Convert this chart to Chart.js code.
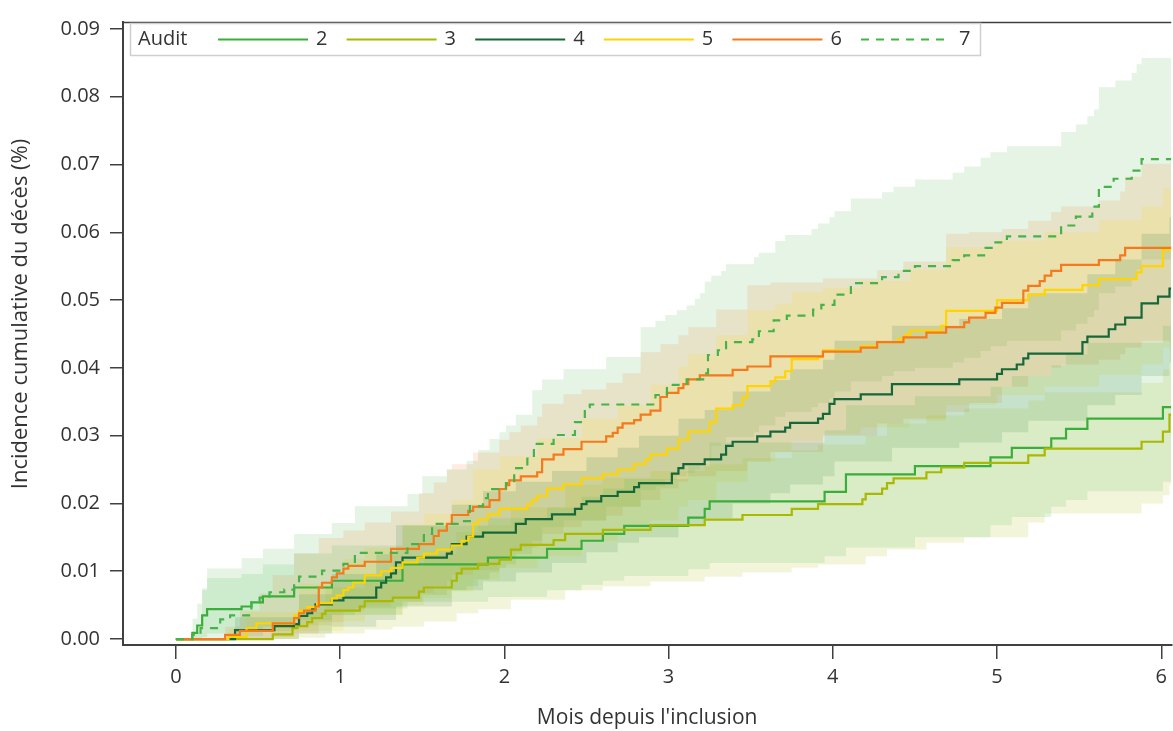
<!DOCTYPE html>
<html><head><meta charset="utf-8">
<script src="https://cdn.jsdelivr.net/npm/chart.js@4/dist/chart.umd.min.js"></script>
<style>html,body{margin:0;padding:0;background:#fff;}#wrap{width:1173px;height:731px;}</style>
</head><body><div id="wrap"><canvas id="c" width="1173" height="731"></canvas></div>
<script>
// ---------- data ----------
const legendTitle = "Audit";
const xTitle = "Mois depuis l'inclusion";
const yTitle = "Incidence cumulative du décès (%)";
const audits = ["2","3","4","5","6","7"];
const xTicks = [0,1,2,3,4,5,6];
const yTicks = [0,0.01,0.02,0.03,0.04,0.05,0.06,0.07,0.08,0.09];

const t2 = [0,0.10,0.13,0.16,0.19,0.40,0.46,0.53,0.72,0.95,1.38,1.90,2.26,2.47,2.60,2.73,3.12,3.22,3.25,3.95,4.08,4.50,4.96,5.09,5.33,5.42,5.55,6.01];
const v2 = [0,0.0009,0.0020,0.0035,0.0044,0.0048,0.0054,0.0063,0.0076,0.0086,0.0110,0.0120,0.0133,0.0145,0.0155,0.0167,0.0179,0.0192,0.0203,0.0217,0.0243,0.0255,0.0268,0.0282,0.0296,0.0310,0.0325,0.0342];

const t3 = [0,0.59,0.71,0.74,0.80,0.83,0.89,0.91,1.12,1.15,1.32,1.48,1.51,1.68,1.71,1.74,1.84,1.97,2.04,2.10,2.30,2.37,2.60,2.89,3.22,3.45,3.75,3.91,4.18,4.20,4.30,4.33,4.37,4.57,4.66,4.80,5.19,5.29,5.88,6.01,6.05];
const v3 = [0,0.0007,0.0016,0.0019,0.0025,0.0031,0.0037,0.0042,0.0048,0.0056,0.0061,0.0070,0.0076,0.0086,0.0097,0.0104,0.0111,0.0117,0.0132,0.0139,0.0146,0.0155,0.0161,0.0168,0.0176,0.0183,0.0192,0.0199,0.0206,0.0214,0.0222,0.0230,0.0237,0.0246,0.0253,0.0260,0.0271,0.0281,0.0291,0.0306,0.0331];

const t4 = [0,0.36,0.60,0.72,0.75,0.80,0.83,0.85,0.95,1.02,1.22,1.25,1.28,1.31,1.34,1.38,1.65,1.68,1.77,1.87,2.07,2.13,2.29,2.43,2.47,2.50,2.59,2.69,2.79,2.82,3.02,3.06,3.09,3.22,3.32,3.35,3.39,3.54,3.62,3.71,3.74,3.91,3.94,3.98,4.01,4.17,4.36,4.77,5.00,5.03,5.12,5.16,5.19,5.52,5.55,5.68,5.72,5.78,5.88,5.98,6.05];
const v4 = [0,0.0013,0.0019,0.0022,0.0034,0.0038,0.0044,0.0051,0.0057,0.0061,0.0076,0.0083,0.0091,0.0097,0.0113,0.0120,0.0126,0.0140,0.0151,0.0157,0.0170,0.0177,0.0184,0.0192,0.0199,0.0203,0.0211,0.0217,0.0224,0.0230,0.0244,0.0252,0.0258,0.0265,0.0272,0.0285,0.0291,0.0299,0.0306,0.0312,0.0319,0.0325,0.0332,0.0347,0.0354,0.0361,0.0376,0.0383,0.0391,0.0398,0.0405,0.0414,0.0421,0.0438,0.0446,0.0457,0.0464,0.0474,0.0495,0.0505,0.0517];

const t5 = [0,0.32,0.43,0.49,0.72,0.75,0.80,0.86,0.95,0.98,1.02,1.05,1.08,1.15,1.25,1.31,1.38,1.47,1.51,1.59,1.68,1.74,1.78,1.81,1.84,1.90,1.97,2.14,2.17,2.20,2.26,2.36,2.47,2.60,2.69,2.79,2.86,2.89,2.99,3.06,3.12,3.25,3.29,3.39,3.45,3.48,3.62,3.65,3.71,3.75,3.91,3.94,4.17,4.27,4.40,4.44,4.47,4.66,4.69,5.00,5.19,5.29,5.52,5.62,5.85,5.88,6.01];
const v5 = [0,0.0003,0.0016,0.0023,0.0035,0.0042,0.0047,0.0053,0.0060,0.0064,0.0072,0.0076,0.0083,0.0094,0.0100,0.0105,0.0113,0.0120,0.0126,0.0132,0.0138,0.0145,0.0151,0.0170,0.0176,0.0184,0.0192,0.0199,0.0205,0.0211,0.0222,0.0228,0.0237,0.0243,0.0250,0.0258,0.0265,0.0272,0.0281,0.0294,0.0306,0.0320,0.0340,0.0345,0.0356,0.0373,0.0380,0.0386,0.0395,0.0413,0.0416,0.0426,0.0432,0.0438,0.0443,0.0449,0.0455,0.0462,0.0484,0.0500,0.0508,0.0515,0.0522,0.0531,0.0541,0.0550,0.0574];

const t6 = [0,0.30,0.39,0.59,0.72,0.75,0.78,0.85,0.87,0.89,0.95,0.98,1.02,1.05,1.15,1.31,1.48,1.57,1.60,1.65,1.68,1.78,1.81,1.91,1.97,2.01,2.03,2.10,2.20,2.23,2.30,2.36,2.47,2.62,2.66,2.69,2.72,2.79,2.83,2.89,2.95,2.99,3.06,3.09,3.12,3.19,3.39,3.48,3.62,3.94,4.17,4.27,4.43,4.57,4.69,4.80,4.83,4.93,4.99,5.03,5.16,5.19,5.26,5.29,5.33,5.39,5.62,5.75,5.78];
const v6 = [0,0.0006,0.0012,0.0023,0.0031,0.0038,0.0042,0.0048,0.0076,0.0083,0.0091,0.0097,0.0104,0.0108,0.0114,0.0133,0.0140,0.0152,0.0160,0.0170,0.0183,0.0189,0.0195,0.0205,0.0221,0.0227,0.0234,0.0240,0.0246,0.0265,0.0272,0.0280,0.0291,0.0299,0.0304,0.0312,0.0318,0.0323,0.0331,0.0337,0.0357,0.0363,0.0370,0.0376,0.0383,0.0389,0.0397,0.0402,0.0417,0.0424,0.0430,0.0438,0.0445,0.0452,0.0460,0.0467,0.0474,0.0481,0.0489,0.0496,0.0514,0.0521,0.0528,0.0536,0.0543,0.0552,0.0559,0.0566,0.0577];

const t7 = [0,0.10,0.15,0.27,0.33,0.46,0.51,0.57,0.66,0.72,0.75,0.89,1.02,1.09,1.41,1.51,1.56,1.73,1.79,1.87,1.90,2.01,2.06,2.14,2.18,2.30,2.43,2.49,2.52,2.92,2.99,3.11,3.22,3.24,3.30,3.35,3.51,3.55,3.64,3.72,3.88,3.93,4.01,4.11,4.30,4.40,4.50,4.73,4.80,4.93,4.99,5.06,5.39,5.48,5.58,5.62,5.71,5.82,5.88];
const v7 = [0,0.0006,0.0016,0.0029,0.0035,0.0054,0.0061,0.0069,0.0073,0.0082,0.0092,0.0101,0.0111,0.0127,0.0140,0.0155,0.0170,0.0174,0.0196,0.0208,0.0221,0.0230,0.0252,0.0266,0.0288,0.0301,0.0320,0.0342,0.0346,0.0360,0.0375,0.0383,0.0392,0.0419,0.0426,0.0438,0.0442,0.0454,0.0470,0.0477,0.0486,0.0493,0.0508,0.0525,0.0534,0.0543,0.0550,0.0559,0.0566,0.0577,0.0585,0.0594,0.0610,0.0623,0.0638,0.0667,0.0679,0.0691,0.0708];

// confidence bands
const bt2 = [0.10,0.13,0.16,0.19,0.40,0.53,0.72,0.95,1.38,1.90,2.26,2.47,2.60,2.73,3.12,3.25,3.95,4.08,4.50,4.96,5.09,5.33,5.42,5.55,6.01];
const lo2 = [0,0,0.0003,0.0008,0.0012,0.0018,0.0028,0.0036,0.0055,0.0062,0.0072,0.0080,0.0086,0.0093,0.0103,0.0112,0.0122,0.0135,0.0150,0.0168,0.0180,0.0195,0.0205,0.0218,0.0232];
const hi2 = [0.0030,0.0052,0.0075,0.0090,0.0096,0.0110,0.0126,0.0138,0.0167,0.0178,0.0194,0.0210,0.0222,0.0236,0.0255,0.0290,0.0308,0.0345,0.0358,0.0372,0.0388,0.0404,0.0420,0.0437,0.0462];

const bt3 = [0.59,0.74,0.91,1.15,1.32,1.51,1.71,1.84,2.04,2.37,2.60,2.89,3.22,3.45,3.75,3.91,4.20,4.33,4.57,4.80,5.19,5.29,5.88,6.01,6.05];
const lo3 = [0,0.0002,0.0008,0.0014,0.0018,0.0026,0.0038,0.0044,0.0058,0.0072,0.0078,0.0085,0.0092,0.0098,0.0105,0.0110,0.0122,0.0132,0.0142,0.0150,0.0172,0.0185,0.0200,0.0212,0.0228];
const hi3 = [0.0022,0.0040,0.0076,0.0096,0.0108,0.0126,0.0158,0.0168,0.0194,0.0228,0.0238,0.0248,0.0258,0.0267,0.0278,0.0287,0.0300,0.0318,0.0330,0.0340,0.0352,0.0364,0.0378,0.0398,0.0440];

const bt4 = [0.36,0.75,0.95,1.22,1.34,1.68,1.87,2.07,2.29,2.50,2.69,2.82,3.06,3.22,3.39,3.62,3.74,3.94,4.01,4.36,4.77,5.03,5.19,5.55,5.72,5.88,6.05];
const lo4 = [0,0.0008,0.0018,0.0028,0.0048,0.0072,0.0085,0.0098,0.0112,0.0128,0.0142,0.0150,0.0168,0.0178,0.0200,0.0215,0.0228,0.0240,0.0262,0.0282,0.0290,0.0305,0.0322,0.0345,0.0360,0.0388,0.0408];
const hi4 = [0.0032,0.0066,0.0096,0.0125,0.0168,0.0198,0.0218,0.0232,0.0248,0.0268,0.0282,0.0300,0.0325,0.0338,0.0365,0.0382,0.0398,0.0412,0.0440,0.0462,0.0472,0.0488,0.0510,0.0538,0.0560,0.0598,0.0622];

const bt5 = [0.32,0.43,0.75,1.02,1.15,1.38,1.51,1.68,1.81,1.97,2.20,2.47,2.69,2.89,3.06,3.12,3.29,3.48,3.65,3.75,3.94,4.17,4.47,4.69,5.00,5.29,5.62,5.88,6.01];
const lo5 = [0,0,0.0012,0.0026,0.0036,0.0050,0.0060,0.0070,0.0088,0.0105,0.0122,0.0145,0.0160,0.0175,0.0195,0.0205,0.0232,0.0262,0.0275,0.0292,0.0302,0.0312,0.0322,0.0345,0.0360,0.0372,0.0390,0.0405,0.0430];
const hi5 = [0.0015,0.0040,0.0082,0.0118,0.0135,0.0170,0.0185,0.0205,0.0250,0.0270,0.0296,0.0325,0.0345,0.0375,0.0402,0.0420,0.0448,0.0485,0.0495,0.0512,0.0518,0.0528,0.0545,0.0578,0.0588,0.0600,0.0618,0.0638,0.0665];

const bt6 = [0.30,0.39,0.51,0.59,0.72,0.87,1.02,1.15,1.31,1.48,1.57,1.65,1.68,1.81,1.97,2.03,2.10,2.20,2.23,2.36,2.47,2.62,2.72,2.83,2.95,3.06,3.12,3.29,3.48,3.62,3.94,4.27,4.43,4.69,4.83,5.03,5.19,5.33,5.39,5.62,5.75,5.78,5.88];
const lo6 = [0,0,0,0.0003,0.0008,0.0025,0.0042,0.0048,0.0062,0.0068,0.0078,0.0086,0.0095,0.0102,0.0120,0.0128,0.0135,0.0140,0.0155,0.0165,0.0175,0.0182,0.0195,0.0205,0.0222,0.0232,0.0240,0.0248,0.0262,0.0276,0.0300,0.0318,0.0325,0.0335,0.0348,0.0372,0.0388,0.0400,0.0405,0.0412,0.0420,0.0430,0.0440];
const hi6 = [0.0018,0.0042,0.0067,0.0094,0.0126,0.0149,0.0160,0.0172,0.0188,0.0215,0.0231,0.0250,0.0258,0.0275,0.0294,0.0305,0.0315,0.0328,0.0347,0.0361,0.0368,0.0378,0.0392,0.0423,0.0435,0.0448,0.0460,0.0486,0.0522,0.0526,0.0532,0.0544,0.0557,0.0598,0.0600,0.0605,0.0617,0.0630,0.0638,0.0647,0.0660,0.0682,0.0701];

const bt7 = [0.10,0.16,0.19,0.40,0.53,0.72,0.95,1.09,1.41,1.50,1.65,1.77,1.84,1.91,1.97,2.01,2.07,2.17,2.23,2.36,2.62,2.83,2.92,2.98,3.05,3.11,3.16,3.19,3.22,3.26,3.32,3.35,3.52,3.55,3.65,3.71,3.87,3.91,3.98,4.01,4.11,4.30,4.37,4.50,4.73,4.80,4.90,4.96,5.06,5.39,5.48,5.55,5.59,5.62,5.72,5.82,5.85,5.88];
const lo7 = [0,0,0.0002,0.0005,0.0012,0.0020,0.0035,0.0045,0.0055,0.0065,0.0072,0.0078,0.0088,0.0098,0.0105,0.0110,0.0125,0.0145,0.0165,0.0175,0.0195,0.0220,0.0225,0.0235,0.0240,0.0245,0.0250,0.0255,0.0262,0.0285,0.0290,0.0298,0.0305,0.0315,0.0328,0.0335,0.0342,0.0348,0.0355,0.0365,0.0380,0.0388,0.0395,0.0400,0.0408,0.0415,0.0425,0.0432,0.0440,0.0455,0.0465,0.0475,0.0485,0.0510,0.0520,0.0530,0.0545,0.0560];
const hi7 = [0.0010,0.0072,0.0104,0.0119,0.0133,0.0155,0.0171,0.0196,0.0214,0.0240,0.0250,0.0263,0.0279,0.0295,0.0305,0.0315,0.0331,0.0367,0.0383,0.0398,0.0416,0.0460,0.0469,0.0478,0.0485,0.0492,0.0502,0.0510,0.0527,0.0536,0.0543,0.0553,0.0563,0.0570,0.0587,0.0596,0.0605,0.0613,0.0622,0.0631,0.0650,0.0659,0.0667,0.0678,0.0688,0.0697,0.0710,0.0718,0.0727,0.0748,0.0759,0.0771,0.0781,0.0814,0.0824,0.0835,0.0848,0.0857];

// ---------- styling ----------
const X_MIN = -0.322, X_MAX = 6.061, Y_MIN = -0.00088, Y_MAX = 0.09102;
const FONT = "'Open Sans', 'Noto Sans', sans-serif";
const FS = 20;
const TEXT = '#333333', AXIS = '#404040';
const lineColors = ['#3aae3a','#a9b800','#16673a','#ffd400','#f47a1c','#45b347'];
const bandRGB = ['60,174,60','170,184,0','22,103,58','255,212,0','244,122,28','69,179,71'];
const series = [[t2,v2],[t3,v3],[t4,v4],[t5,v5],[t6,v6],[t7,v7]];
const bands = [[bt2,lo2,hi2],[bt3,lo3,hi3],[bt4,lo4,hi4],[bt5,lo5,hi5],[bt6,lo6,hi6],[bt7,lo7,hi7]];

function steps(ts, vs){
  const d = ts.map((t,i)=>({x:t, y:vs[i]}));
  d.push({x:X_MAX, y:vs[vs.length-1]});
  return d;
}

const datasets = [];
series.forEach(([ts,vs],i)=>{
  datasets.push({
    label: audits[i], data: steps(ts,vs), stepped:'before',
    borderColor: lineColors[i], backgroundColor: lineColors[i],
    borderWidth: 2.2, pointRadius: 0, fill:false, order: 5 - i,
    borderDash: i === 5 ? [8,7] : [], isLine:true
  });
});
bands.forEach(([ts,lo,hi],i)=>{
  datasets.push({
    label: 'lo'+audits[i], data: steps(ts,lo), stepped:'before',
    borderColor:'rgba(0,0,0,0)', borderWidth:0, pointRadius:0, fill:false, order: 20
  });
  datasets.push({
    label: 'hi'+audits[i], data: steps(ts,hi), stepped:'before',
    borderColor:'rgba(0,0,0,0)', borderWidth:0, pointRadius:0,
    fill:'-1', backgroundColor:'rgba('+bandRGB[i]+',0.14)', order: 20
  });
});

const framePlugin = {
  id:'frame',
  afterDraw(chart){
    const {ctx, chartArea:a} = chart;
    ctx.save();
    ctx.strokeStyle = AXIS; ctx.lineWidth = 1.5;
    ctx.beginPath(); ctx.moveTo(a.left, a.top + 0.5); ctx.lineTo(a.right, a.top + 0.5); ctx.stroke();
    // y-axis title
    ctx.save();
    ctx.translate(21, 314); ctx.rotate(-Math.PI/2);
    ctx.font = '22px ' + FONT; ctx.fillStyle = TEXT; ctx.textAlign = 'center'; ctx.textBaseline = 'middle';
    ctx.fillText(yTitle, 0, 0);
    ctx.restore();
    // legend
    const bx = 130, by = 23, bw = 850, bh = 32;
    ctx.fillStyle = '#ffffff'; ctx.fillRect(bx, by, bw, bh);
    ctx.strokeStyle = '#cfcfcf'; ctx.lineWidth = 1.5; ctx.strokeRect(bx+0.5, by+0.5, bw, bh);
    const cy = by + bh/2 + 0.5;
    ctx.font = FS + 'px ' + FONT; ctx.fillStyle = TEXT; ctx.textBaseline = 'middle'; ctx.textAlign = 'left';
    ctx.fillText(legendTitle, 138, cy);
    const lines = chart.data.datasets.filter(d=>d.isLine);
    lines.forEach((d,i)=>{
      const x0 = 218 + i*128.6;
      ctx.strokeStyle = d.borderColor; ctx.lineWidth = 2;
      ctx.setLineDash(d.borderDash || []);
      ctx.beginPath(); ctx.moveTo(x0, cy); ctx.lineTo(x0 + 90, cy); ctx.stroke();
      ctx.setLineDash([]);
      ctx.fillStyle = TEXT; ctx.fillText(d.label, x0 + 98, cy);
    });
    ctx.restore();
  }
};

new Chart(document.getElementById('c'), {
  type:'line',
  data:{ datasets },
  plugins:[framePlugin],
  options:{
    responsive:false, animation:false, devicePixelRatio:1,
    layout:{ padding:{ top:17, right:0, left:0, bottom:0 } },
    plugins:{ legend:{ display:false }, tooltip:{ enabled:false } },
    elements:{ line:{ tension:0 } },
    scales:{
      x:{
        type:'linear', min:X_MIN, max:X_MAX,
        afterBuildTicks:(s)=>{ s.ticks = xTicks.map(v=>({value:v})); },
        afterFit:(s)=>{ s.height = 86; },
        grid:{ drawOnChartArea:false, drawTicks:true, tickLength:14, color:AXIS, lineWidth:1.5 },
        border:{ display:true, color:AXIS, width:2 },
        ticks:{ font:{ size:FS, family:FONT }, color:TEXT, padding:6, maxRotation:0, callback:(v)=>String(v) },
        title:{ display:true, text:xTitle, color:TEXT, font:{ size:21, family:FONT }, padding:{ top:0, bottom:0 } }
      },
      y:{
        type:'linear', min:Y_MIN, max:Y_MAX,
        afterBuildTicks:(s)=>{ s.ticks = yTicks.map(v=>({value:v})); },
        afterFit:(s)=>{ s.width = 123; },
        grid:{ drawOnChartArea:false, drawTicks:true, tickLength:13, color:AXIS, lineWidth:1.5 },
        border:{ display:true, color:AXIS, width:2 },
        ticks:{ font:{ size:FS, family:FONT }, color:TEXT, padding:10, callback:(v)=>Number(v).toFixed(2) },
        title:{ display:false }
      }
    }
  }
});
</script>
</body></html>
